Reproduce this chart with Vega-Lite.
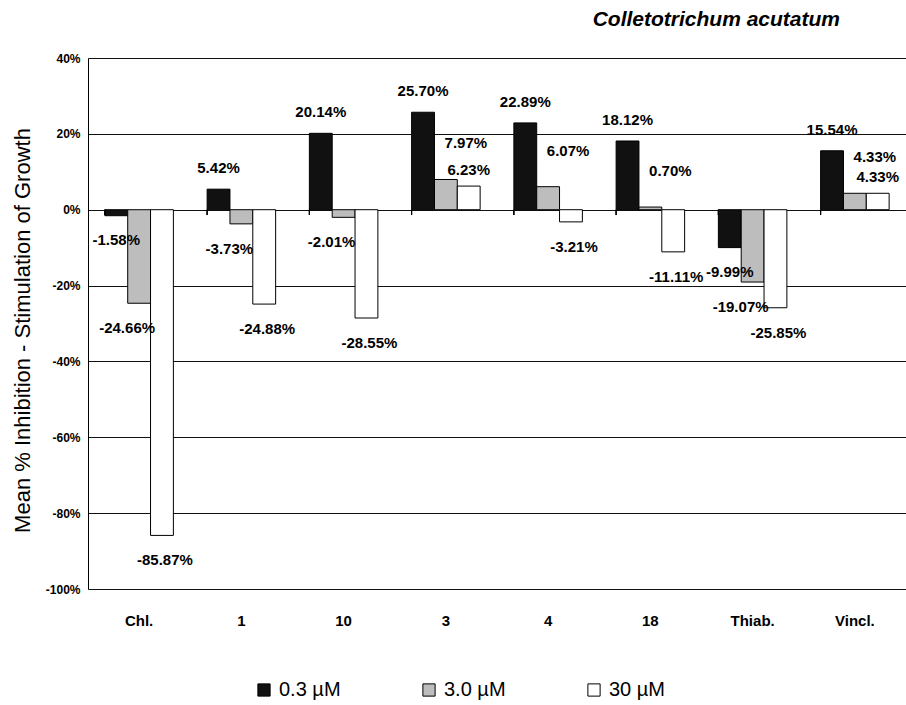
{
  "$schema": "https://vega.github.io/schema/vega-lite/v6.json",
  "width": 818,
  "height": 531,
  "autosize": "none",
  "padding": {"left": 88, "top": 58, "right": 0, "bottom": 116},
  "background": "white",
  "config": {"font": "Liberation Sans", "view": {"stroke": null}},
  "title": {"text": "Colletotrichum acutatum", "anchor": "end", "fontStyle": "italic", "fontWeight": "bold", "fontSize": 21, "font": "Liberation Sans", "dx": -66, "offset": 22, "color": "black"},
  "data": {"values": [
    {"compound": "Chl.", "conc": "0.3 µM", "value": -1.58},
    {"compound": "Chl.", "conc": "3.0 µM", "value": -24.66},
    {"compound": "Chl.", "conc": "30 µM", "value": -85.87},
    {"compound": "1", "conc": "0.3 µM", "value": 5.42},
    {"compound": "1", "conc": "3.0 µM", "value": -3.73},
    {"compound": "1", "conc": "30 µM", "value": -24.88},
    {"compound": "10", "conc": "0.3 µM", "value": 20.14},
    {"compound": "10", "conc": "3.0 µM", "value": -2.01},
    {"compound": "10", "conc": "30 µM", "value": -28.55},
    {"compound": "3", "conc": "0.3 µM", "value": 25.70},
    {"compound": "3", "conc": "3.0 µM", "value": 7.97},
    {"compound": "3", "conc": "30 µM", "value": 6.23},
    {"compound": "4", "conc": "0.3 µM", "value": 22.89},
    {"compound": "4", "conc": "3.0 µM", "value": 6.07},
    {"compound": "4", "conc": "30 µM", "value": -3.21},
    {"compound": "18", "conc": "0.3 µM", "value": 18.12},
    {"compound": "18", "conc": "3.0 µM", "value": 0.70},
    {"compound": "18", "conc": "30 µM", "value": -11.11},
    {"compound": "Thiab.", "conc": "0.3 µM", "value": -9.99},
    {"compound": "Thiab.", "conc": "3.0 µM", "value": -19.07},
    {"compound": "Thiab.", "conc": "30 µM", "value": -25.85},
    {"compound": "Vincl.", "conc": "0.3 µM", "value": 15.54},
    {"compound": "Vincl.", "conc": "3.0 µM", "value": 4.33},
    {"compound": "Vincl.", "conc": "30 µM", "value": 4.33}
  ]},
  "transform": [
    {"calculate": "replace(format(datum.value, '.2f'), '\u2212', '-') + '%'", "as": "label"}
  ],
  "encoding": {
    "x": {
      "field": "compound", "type": "nominal",
      "sort": ["Chl.", "1", "10", "3", "4", "18", "Thiab.", "Vincl."],
      "scale": {"paddingInner": 0.33, "paddingOuter": 0.165},
      "axis": {"title": null, "labelAngle": 0, "labelFontSize": 15, "labelFontWeight": "bold", "labelColor": "black", "labelPadding": 24, "ticks": false, "domain": false, "grid": false}
    },
    "xOffset": {"field": "conc", "type": "nominal", "sort": ["0.3 µM", "3.0 µM", "30 µM"], "scale": {"paddingInner": 0, "paddingOuter": 0}},
    "y": {
      "field": "value", "type": "quantitative",
      "scale": {"domain": [-100, 40], "nice": false, "zero": true},
      "axis": {
        "values": [-100, -80, -60, -40, -20, 0, 20, 40],
        "labelExpr": "datum.value + '%'",
        "title": "Mean % Inhibition - Stimulation of Growth",
        "titleFontSize": 22, "titleFontWeight": "normal", "titleColor": "black",
        "titleX": -66, "titleY": 272, "titleBaseline": "middle", "titleAngle": -90,
        "labelFontSize": 12, "labelFontWeight": "bold", "labelColor": "black", "labelPadding": 8,
        "ticks": false, "domain": true, "domainColor": "black",
        "grid": true, "gridColor": "#111", "gridWidth": 1
      }
    }
  },
  "layer": [
    {
      "mark": {"type": "bar", "stroke": "black", "strokeWidth": 1},
      "encoding": {
        "fill": {
          "field": "conc", "type": "nominal",
          "sort": ["0.3 µM", "3.0 µM", "30 µM"],
          "scale": {"domain": ["0.3 µM", "3.0 µM", "30 µM"], "range": ["#111111", "#bdbdbd", "#ffffff"]},
          "legend": {
            "title": null, "orient": "none", "direction": "horizontal",
            "legendX": 166, "legendY": 622,
            "symbolType": "square", "symbolSize": 150, "symbolStrokeColor": "black", "symbolStrokeWidth": 1,
            "labelFontSize": 20, "labelFont": "Liberation Sans", "labelColor": "black", "labelOffset": 5,
            "columnPadding": 78
          }
        }
      }
    },
    {
      "mark": {"type": "rule", "color": "black", "strokeWidth": 1},
      "encoding": {
        "xOffset": null,
        "x": {"field": "compound", "type": "nominal", "sort": ["Chl.", "1", "10", "3", "4", "18", "Thiab.", "Vincl."], "bandPosition": 0},
        "y": {"datum": 0},
        "y2": {"datum": -1.4}
      }
    },
    {
      "transform": [{"filter": "datum.value >= 0 && datum.conc == '0.3 µM'"}],
      "mark": {"type": "text", "fontSize": 15, "fontWeight": "bold", "color": "black", "baseline": "middle", "dy": -21, "dx": 0},
      "encoding": {"text": {"field": "label"}}
    },
    {
      "transform": [{"filter": "datum.value >= 0 && datum.conc == '3.0 µM'"}],
      "mark": {"type": "text", "fontSize": 15, "fontWeight": "bold", "color": "black", "baseline": "middle", "dy": -36, "dx": 20},
      "encoding": {"text": {"field": "label"}}
    },
    {
      "transform": [{"filter": "datum.value >= 0 && datum.conc == '30 µM'"}],
      "mark": {"type": "text", "fontSize": 15, "fontWeight": "bold", "color": "black", "baseline": "middle", "dy": -16, "dx": 0},
      "encoding": {"text": {"field": "label"}}
    },
    {
      "transform": [{"filter": "datum.value < 0 && datum.conc == '0.3 µM'"}],
      "mark": {"type": "text", "fontSize": 15, "fontWeight": "bold", "color": "black", "baseline": "middle", "dy": 24, "dx": 0},
      "encoding": {"text": {"field": "label"}}
    },
    {
      "transform": [{"filter": "datum.value < 0 && datum.conc == '3.0 µM'"}],
      "mark": {"type": "text", "fontSize": 15, "fontWeight": "bold", "color": "black", "baseline": "middle", "dy": 25, "dx": -12},
      "encoding": {"text": {"field": "label"}}
    },
    {
      "transform": [{"filter": "datum.value < 0 && datum.conc == '30 µM'"}],
      "mark": {"type": "text", "fontSize": 15, "fontWeight": "bold", "color": "black", "baseline": "middle", "dy": 25, "dx": 3},
      "encoding": {"text": {"field": "label"}}
    }
  ]
}
